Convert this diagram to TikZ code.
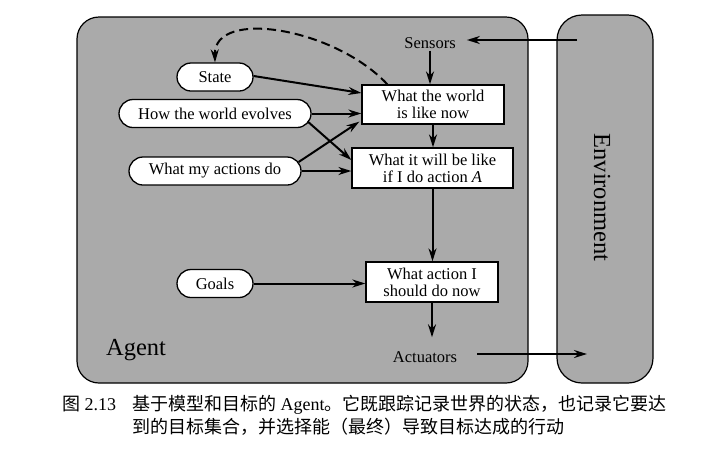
\documentclass[tikz,border=0pt]{standalone}
\usepackage{fontspec}
\setmainfont{Liberation Serif}
\newfontfamily\cjk{Noto Sans CJK SC}
\usetikzlibrary{arrows.meta,calc}
\definecolor{agentgray}{RGB}{170,170,170}
\begin{document}
\begin{tikzpicture}[x=1pt,y=-1pt,
  arr/.style={line width=2pt,-{Stealth[length=13pt,width=8pt]}},
  dasharr/.style={line width=2pt,dash pattern=on 9pt off 5pt,-{Stealth[length=13pt,width=8pt]}},
  oval/.style={draw,line width=1.3pt,fill=white,rounded corners=14pt,minimum height=28pt,inner sep=0pt,font=\fontsize{16.5}{17}\selectfont},
  box/.style={draw,line width=1.3pt,fill=white,inner sep=0pt,align=center,minimum height=39pt,font=\fontsize{16.5}{17}\selectfont},
  lbl/.style={font=\fontsize{16.5}{17}\selectfont,inner sep=2pt},
  big/.style={font=\fontsize{24.5}{25}\selectfont,inner sep=0pt},
  captext/.style={font=\fontsize{18}{23}\selectfont,inner sep=0pt,anchor=base west},
  region/.style={draw,line width=1.2pt,fill=agentgray}]
\useasboundingbox (0,0) rectangle (703,448);
\fill[white] (0,0) rectangle (703,448);
% regions
\draw[region,rounded corners=22pt] (77,17) rectangle (528,383);
\draw[region,rounded corners=25pt] (557,15) rectangle (653,383);
% labels
\node[big] (agent) at (136,350) {Agent};
\node[big,rotate=-90] (env) at (602,197.5) {Environment};
\node[lbl] (sensors) at (430,43) {Sensors};
\node[lbl] (act) at (425,357) {Actuators};
\coordinate (envS) at (577,40);
\coordinate (envA) at (587,354);
% boxes
\node[box,minimum width=142pt] (w1) at (433,104.5) {What the world\\is like now};
\node[box,minimum width=161pt,minimum height=40pt] (w2) at (432.5,168) {What it will be like\\if I do action \textit{A}};
\node[box,minimum width=132pt,minimum height=40pt] (w3) at (432,282) {What action I\\should do now};
% ovals
\node[oval,minimum width=76pt] (state) at (215,77) {State};
\node[oval,minimum width=192pt] (evolves) at (215,113.5) {How the world evolves};
\node[oval,minimum width=172pt] (actions) at (215,171) {What my actions do};
\node[oval,minimum width=76pt] (goals) at (215,283.5) {Goals};
% connectors
\draw[arr] (envS) -- ($(sensors.east)+(9,-3)$);
\draw[arr] (sensors.south) -- (sensors.south |- w1.north);
\draw[arr] (w1.south) -- (w1.south |- w2.north);
\draw[arr] (w2.south) -- (w2.south |- w3.north);
\draw[arr,shorten >=12pt] (w3.south) -- (w3.south |- act.north);
\draw[arr] ($(act.east)+(18,-3)$) -- (envA);
\draw[arr] ($(state.east)+(0,-1)$) -- ($(w1.west)+(0,-11.5)$);
\draw[arr] (evolves.east) -- (evolves.east -| w1.west);
\draw[arr] ($(evolves.east)+(-4,8)$) -- ($(w2.west)+(0,-8)$);
\draw[arr] ($(actions.east)+(-3,-9)$) -- ($(w1.south west)+(-2,-3)$);
\draw[arr] (actions.east) -- (actions.east -| w2.west);
\draw[arr] (goals.east) -- (goals.east -| w3.west);
\draw[dasharr] ($(w1.north west)+(26,0)$) .. controls (335,28) and (214,8) .. (state.north);
% caption
\node[captext] (fignum) at (62,410) {{\cjk 图} 2.13};
\node[captext] (cap1) at (132,410) {{\cjk 基于模型和目标的} Agent{\cjk 。它既跟踪记录世界的状态，也记录它要达}};
\node[captext] (cap2) at (132,433) {{\cjk 到的目标集合，并选择能（最终）导致目标达成的行动}};
\end{tikzpicture}
\end{document}
